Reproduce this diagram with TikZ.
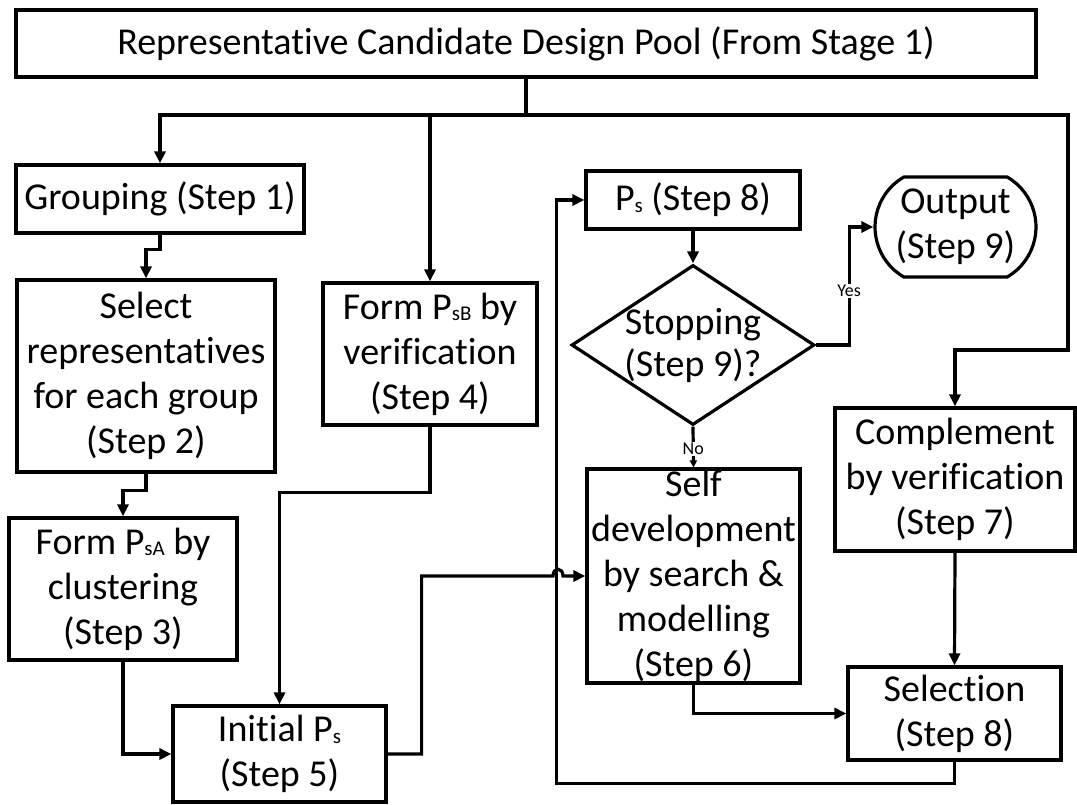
\documentclass[tikz,border=0pt]{standalone}
\usepackage{fontspec}
\setmainfont{Carlito}[Ligatures=NoCommon]
\usetikzlibrary{arrows.meta,shapes.geometric,shapes.misc,calc}
\newcommand{\sbs}[1]{\raisebox{-1.5pt}{\fontsize{21}{21}\selectfont #1}}
\begin{document}
\begin{tikzpicture}[x=1pt,y=-1pt,
  box/.style={draw, line width=3.2pt, inner sep=0pt, align=center, font=\fontsize{38}{45}\selectfont},
  conn/.style={line width=3.2pt},
  arr/.style={conn, -{Triangle[length=12pt,width=11pt]}},
  lbl/.style={fill=white, inner sep=1pt, font=\fontsize{18}{18}\selectfont}]
\fill[white] (0,0) rectangle (1077,804);
\useasboundingbox (0,0) rectangle (1077,804);

\node[box, minimum width=1020pt, minimum height=67pt] (top) at (526,43.5) {Representative Candidate Design Pool (From Stage 1)};
\node[box, minimum width=288pt, minimum height=68pt] (grp) at (160,199) {Grouping (Step 1)};
\node[box, minimum width=258pt, minimum height=192pt] (sel) at (146,376) {Select\\representatives\\for each group\\(Step 2)};
\node[box, minimum width=228pt, minimum height=142pt] (psa) at (123,589) {Form P\sbs{sA} by\\clustering\\(Step 3)};
\node[box, minimum width=214pt, minimum height=142pt] (psb) at (430,354) {Form P\sbs{sB} by\\verification\\(Step 4)};
\node[box, minimum width=213pt, minimum height=96pt] (init) at (279.5,754) {Initial P\sbs{s}\\(Step 5)};
\node[box, minimum width=214pt, minimum height=58pt] (ps) at (693,200) {P\sbs{s} (Step 8)};
\node[draw, diamond, line width=3.2pt, inner sep=0pt, minimum width=243pt, minimum height=160pt] (dia) at (693,345) {};
\node[align=center, font=\fontsize{38}{42}\selectfont, inner sep=0pt] (diat) at (dia) {Stopping\\(Step 9)?};
\node[box, rounded rectangle, rounded rectangle arc length=120, minimum width=161pt, minimum height=100pt] (out) at (955.5,227) {Output\\(Step 9)};
\node[box, minimum width=213pt, minimum height=214pt] (self) at (693.5,576) {Self\\development\\by search \&\\modelling\\(Step 6)};
\node[box, minimum width=240pt, minimum height=143pt] (comp) at (955,479.5) {Complement\\by verification\\(Step 7)};
\node[box, minimum width=213pt, minimum height=93pt] (selc) at (954.5,713.5) {Selection\\(Step 8)};

\coordinate (hub) at (526,115);
\coordinate (rt) at (1068,350);
\coordinate (jmp) at (558,576);
\draw[conn] (top.south) -- (hub);
\draw[arr] (hub) -| (grp.north);
\draw[arr] (hub) -| (psb.north);
\draw[arr] (hub) -| (rt) -| (comp.north);
\draw[arr] (grp.south) -- ++(0,15) -| (sel.north);
\draw[arr] (sel.south) -- ++(0,17) -| (psa.north);
\draw[arr] (psa.south) |- (init.west);
\draw[arr] (psb.south) -- ++(0,66) -| (init.north);
\draw[arr] (selc.south) -- ++(0,22) -| ($(ps.west)+(-28,0)$) -- (ps.west);
\draw[arr] (init.east) -- ++(34,0) |- ($(jmp)+(-5,0)$) .. controls ($(jmp)+(-5,-9)$) and ($(jmp)+(5,-9)$) .. ($(jmp)+(5,0)$) -- (self.west);
\draw[arr] (ps.south) -- (dia.north);
\draw[arr] (dia.east) -- ++(33,0) |- (out.west) node[lbl, pos=0.23] {Yes};
\draw[conn, -{Triangle[length=7pt,width=7pt]}] (dia.south) -- (self.north) node[lbl, pos=0.55] {No};
\draw[arr] (self.south) |- (selc.west);
\draw[arr] (comp.south) -- (selc.north);
\end{tikzpicture}
\end{document}
